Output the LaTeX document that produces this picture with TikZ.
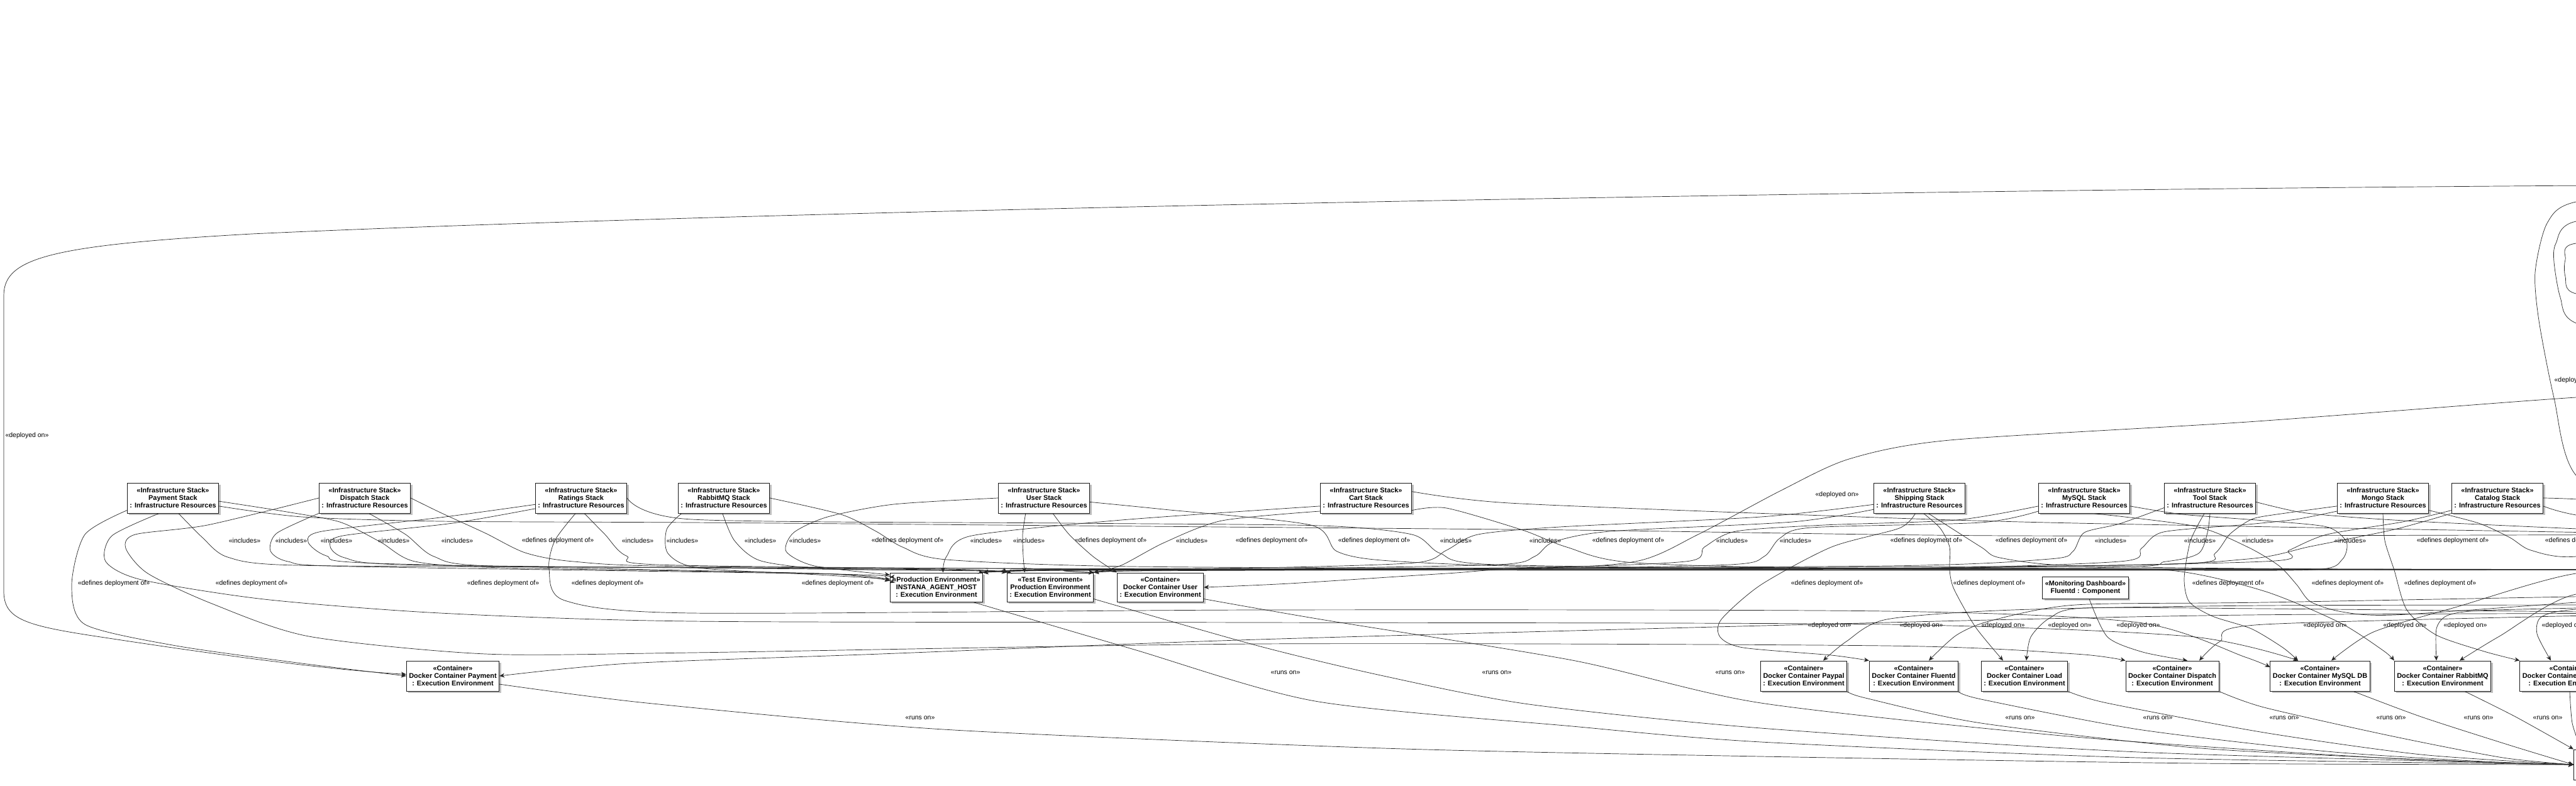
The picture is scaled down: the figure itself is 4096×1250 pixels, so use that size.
\documentclass[tikz,border=0pt]{standalone}
\usepackage{fontspec}
\setmainfont{Liberation Sans}
\usetikzlibrary{arrows.meta,shadows}
\begin{document}
\begin{tikzpicture}[x=1pt,y=-1pt,
  box/.style={draw=black!90, line width=1pt, fill=white,
    drop shadow={shadow xshift=3pt,shadow yshift=-3pt,opacity=0.35,fill=black!70},
    font=\fontsize{10.9}{12}\selectfont\bfseries, align=center,
    inner xsep=4pt, inner ysep=0pt, minimum height=48pt},
  envbox/.style={box, minimum height=46pt},
  dashbox/.style={box, minimum height=35pt},
  lbl/.style={font=\fontsize{10.5}{12}\selectfont, inner sep=0pt},
  edge/.style={draw=black!85, line width=0.7pt},
  arr/.style={edge, -{Stealth[length=8pt,width=7pt,inset=2.5pt]}},
  sm/.style={smooth, tension=0.45},
]
\useasboundingbox (0,0) rectangle (4096,1250);
\fill[white] (0,0) rectangle (4096,1250);
\clip (0,0) rectangle (4096,1250);

% ---------- off-picture ends ----------
\coordinate (oTop) at (4300,294);
\coordinate (oDep) at (4300,626);
\coordinate (oBun) at (4300,906);
\coordinate (oUp)  at (4300,850);
\coordinate (oLow) at (4300,962);
\coordinate (oLow2) at (4300,975);
\coordinate (oLow3) at (4300,945);
\coordinate (oLp1) at (4300,300);
\coordinate (oLp1e) at (4250,860);
\coordinate (oLp2) at (4300,335);
\coordinate (oLp2e) at (4250,560);
\coordinate (oLp3) at (4300,382);
\coordinate (oLp3e) at (4250,480);

% ---------- stacks ----------
\node[box] (sPay) at (275,792) {«Infrastructure Stack»\\Payment Stack\\: Infrastructure Resources};
\node[box] (sDis) at (580,792) {«Infrastructure Stack»\\Dispatch Stack\\: Infrastructure Resources};
\node[box] (sRat) at (924,792) {«Infrastructure Stack»\\Ratings Stack\\: Infrastructure Resources};
\node[box] (sRab) at (1151,792) {«Infrastructure Stack»\\RabbitMQ Stack\\: Infrastructure Resources};
\node[box] (sUse) at (1660,792) {«Infrastructure Stack»\\User Stack\\: Infrastructure Resources};
\node[box] (sCar) at (2172,792) {«Infrastructure Stack»\\Cart Stack\\: Infrastructure Resources};
\node[box] (sShi) at (3052,792) {«Infrastructure Stack»\\Shipping Stack\\: Infrastructure Resources};
\node[box] (sMys) at (3314,792) {«Infrastructure Stack»\\MySQL Stack\\: Infrastructure Resources};
\node[box] (sToo) at (3514,792) {«Infrastructure Stack»\\Tool Stack\\: Infrastructure Resources};
\node[box] (sMon) at (3789,792) {«Infrastructure Stack»\\Mongo Stack\\: Infrastructure Resources};
\node[box] (sCat) at (3971,792) {«Infrastructure Stack»\\Catalog Stack\\: Infrastructure Resources};

% ---------- environments ----------
\node[envbox] (inst) at (1489,934) {«Production Environment»\\INSTANA\_AGENT\_HOST\\: Execution Environment};
\node[envbox] (test) at (1670,934) {«Test Environment»\\Production Environment\\: Execution Environment};
\node[envbox] (cUser) at (1845,934) {«Container»\\Docker Container User\\: Execution Environment};
\node[dashbox] (fluC) at (3316,934.5) {«Monitoring Dashboard»\\Fluentd : Component};

% ---------- containers ----------
\node[box] (cPay) at (720,1075) {«Container»\\Docker Container Payment\\: Execution Environment};
\node[box] (cPaypal) at (2868,1075) {«Container»\\Docker Container Paypal\\: Execution Environment};
\node[box] (cFlu) at (3043,1075) {«Container»\\Docker Container Fluentd\\: Execution Environment};
\node[box] (cLoad) at (3219,1075) {«Container»\\Docker Container Load\\: Execution Environment};
\node[box] (cDis) at (3454,1075) {«Container»\\Docker Container Dispatch\\: Execution Environment};
\node[box] (cMys) at (3689,1075) {«Container»\\Docker Container MySQL DB\\: Execution Environment};
\node[box] (cRab) at (3884,1075) {«Container»\\Docker Container RabbitMQ\\: Execution Environment};
\node[box] (cX) at (4085,1075) {«Container»\\Docker Container Mongo DB\\: Execution Environment};
\node[box, anchor=west, minimum width=160pt] (host) at (4092,1216) {};

% ---------- labels ----------
\foreach \x [count=\i] in {389,463,535,626,727,1014,1085,1209,1280,1568,1636,1895,2315,2457,2754,2855,3356,3498,3590,3737}
  \node[lbl] (inc\i) at (\x,860) {«includes»};
\foreach \x [count=\i] in {887,1443,1766,2022,2185,2589,3063,3230,3900,4104}
  \node[lbl] (defa\i) at (\x,860) {«defines deployment of»};
\foreach \x [count=\i] in {181,400,800,966,1332,2905,3163,3543,3733,3880}
  \node[lbl] (defb\i) at (\x,928) {«defines deployment of»};
\foreach \x [count=\i] in {2909,3055,3185,3291,3400,3697,3824,3920,4076}
  \node[lbl] (depc\i) at (\x,995) {«deployed on»};
\node[lbl] (depx1) at (43,693) {«deployed on»};
\node[lbl] (depx2) at (2921,787) {«deployed on»};
\node[lbl] (depx3) at (4096,605) {«deployed on»};
\foreach \x [count=\i] in {2044,2380,2751}
  \node[lbl] (runa\i) at (\x,1070) {«runs on»};
\foreach \x [count=\i] in {1463,3212,3431,3632,3802,3941,4051}
  \node[lbl] (runb\i) at (\x,1142) {«runs on»};

% ---------- Payment stack ----------
\draw[arr] plot[sm] coordinates {(sPay.228) (178,852) (168,893) (225,922) (420,953) (700,975) (1100,988) (2000,990) (3000,993) (3480,1012) ([xshift=-35]cMys.north)};
\draw[arr] plot[sm] coordinates {(sPay.290) (322,855) (362,886) (470,899) (1000,902) (1500,905) (test.north west)};
\draw[arr] plot[sm] coordinates {(sPay.195) (135,850) (114,930) (135,993) (280,1027) (480,1055) (cPay.west)};
\draw[arr] plot[sm] coordinates {(sPay.356) (450,813) (540,830) (605,862) (660,893) (800,903) (1300,912) (inst.172)};
\draw[edge] plot[sm] coordinates {(sPay.350) (480,822) (700,829) (1100,831) (1700,836) (2500,843) (3200,852) (oUp)};

% ---------- Dispatch stack ----------
\draw[arr] plot[sm] coordinates {(sDis.west) (330,835) (215,850) (200,872) (235,912) (337,960) (491,1012) (772,1040) (1100,1038) (2000,1024) (3000,1027) (3300,1040) (cDis.north west)};
\draw[arr] plot[sm] coordinates {(sDis.south west) (440,848) (430,876) (458,893) (560,901) (1330,913) (inst.168)};
\draw[arr] plot[sm] coordinates {(sDis.285) (645,850) (690,885) (780,900) (1300,904) (1560,907) (test.north west)};
\draw[edge] plot[sm] coordinates {(sDis.east) (700,815) (772,848) (835,879) (912,893) (1100,901) (2000,905) (oBun)};

% ---------- Ratings stack ----------
\draw[arr] plot[sm] coordinates {(sRat.188) (700,823) (512,845) (490,862) (519,884) (600,896) (1330,913) (inst.175)};
\draw[arr] plot[sm] coordinates {(sRat.193) (720,832) (545,852) (525,869) (548,887) (640,898) (1200,904) (1560,908) (test.north west)};
\draw[edge] plot[sm] coordinates {(sRat.282) (962,850) (996,884) (1080,899) (2000,906) (oBun)};
\draw[arr] plot[sm] coordinates {(sRat.250) (882,860) (873,905) (898,955) (1100,975) (2000,970) (3000,972) (3400,990) (3570,1045) (cMys.170)};
\draw[edge] plot[sm] coordinates {(sRat.east) (1100,826) (1700,832) (2100,836) (2245,850) (2290,880) (2380,898) (3000,905) (oBun)};

% ---------- RabbitMQ stack ----------
\draw[arr] plot[sm] coordinates {(sRab.200) (1060,842) (1062,880) (1110,903) (1300,914) (inst.170)};
\draw[arr] plot[sm] coordinates {(sRab.265) (1168,860) (1210,892) (1320,905) (1560,907) (test.north west)};
\draw[arr] plot[sm] coordinates {(sRab.east) (1337,818) (1393,845) (1435,870) (1505,890) (1800,901) (2500,904) (3200,905) (3450,907) (3600,940) (3720,990) (3790,1035) (cRab.north west)};

% ---------- User stack ----------
\draw[arr] plot[sm] coordinates {(sUse.220) (1626,850) (1627,885) (test.150)};
\draw[arr] plot[sm] coordinates {(sUse.west) (1421,802) (1316,822) (1262,847) (1250,877) (1295,900) (inst.165)};
\draw[arr] plot[sm] coordinates {(sUse.300) (1700,850) (1738,885) (cUser.north west)};
\draw[edge] plot[sm] coordinates {(sUse.355) (1850,810) (2084,835) (2126,877) (2210,892) (2500,902) (3300,904) (oBun)};

% ---------- Cart stack ----------
\draw[arr] plot[sm] coordinates {(sCar.190) (1783,827) (1545,852) (1505,885) (inst.66)};
\draw[arr] plot[sm] coordinates {(sCar.196) (1943,828) (1851,863) (1783,899) (test.north east)};
\draw[edge] plot[sm] coordinates {(sCar.345) (2300,808) (2421,843) (2491,870) (2600,895) (3000,904) (oBun)};
\draw[edge] plot[sm] coordinates {(sCar.8) (2400,800) (2900,820) (3300,832) (oUp)};

% ---------- Shipping stack ----------
\draw[arr] plot[sm] coordinates {(sShi.188) (2800,822) (2480,838) (2350,850) (2300,875) (2250,895) (2000,903) (1650,906) (inst.north east)};
\draw[arr] plot[sm] coordinates {(sShi.194) (2850,830) (2560,845) (2470,862) (2440,885) (2380,898) (2000,905) (1790,908) (test.north east)};
\draw[arr] plot[sm] coordinates {(sShi.255) (3020,840) (2912,870) (2800,930) (2737,985) (2735,1013) (2772,1030) (2912,1042) (cFlu.north west)};
\draw[arr] plot[sm] coordinates {(sShi.285) (3085,840) (3100,870) (3100,907) (3107,937) (3141,997) ([xshift=-34]cLoad.north)};
\draw[edge] plot[sm] coordinates {(sShi.300) (3150,870) (3180,887) (3300,900) (3700,905) (oBun)};

% ---------- MySQL stack ----------
\draw[arr] plot[sm] coordinates {(sMys.190) (3111,827) (2900,835) (2760,845) (2710,870) (2680,893) (2400,903) (1700,906) (inst.north east)};
\draw[arr] plot[sm] coordinates {(sMys.196) (3150,831) (2880,839) (2830,856) (2805,885) (2750,898) (2400,905) (1800,908) (test.north east)};
\draw[arr] plot[sm] coordinates {(sMys.350) (3470,818) (3600,828) (3700,838) (3731,862) (3724,890) (3680,906) (3400,907) (2800,907) (1700,907) (inst.north east)};
\draw[edge] plot[sm] coordinates {(sMys.300) (3491,837) (3574,870) (3624,900) (3652,930) (3674,957) (3724,973) (3807,978) (4096,958) (oLow3)};

% ---------- Tool stack ----------
\draw[arr] plot[sm] coordinates {(sToo.192) (3370,833) (3314,847) (3296,877) (3259,889) (3000,900) (2000,905) (1700,907) (test.north east)};
\draw[arr] plot[sm] coordinates {(sToo.south) (3510,847) (3496,880) (3444,893) (3300,903) (2000,906) (1650,906) (inst.north east)};
\draw[edge] plot[sm] coordinates {(sToo.355) (3660,815) (3760,824) (3900,832) (oUp)};
\draw[arr] plot[sm] coordinates {(sToo.250) (3483,860) (3473,920) (3481,957) (3518,980) (3580,1000) (3630,1030) ([xshift=-35]cMys.north)};

% ---------- Mongo stack ----------
\draw[arr] plot[sm] coordinates {(sMon.190) (3600,821) (3574,829) (3545,850) (3522,880) (3480,896) (3000,904) (2000,906) (1700,907) (test.north east)};
\draw[arr] plot[sm] coordinates {(sMon.196) (3650,826) (3574,834) (3440,846) (3405,872) (3370,893) (3000,904) (2000,906) (1650,906) (inst.north east)};
\draw[arr] plot[sm] coordinates {(sMon.south) (3792,860) (3807,907) (3827,970) (3874,1010) (3950,1036) (cX.north west)};
\draw[edge] plot[sm] coordinates {(sMon.345) (3941,832) (3991,855) (4024,875) (4096,885) (oUp)};

% ---------- Catalog stack ----------
\draw[arr] plot[sm] coordinates {(sCat.south west) (3807,842) (3674,869) (3574,889) (3300,900) (2000,905) (1650,906) (inst.north east)};
\draw[arr] plot[sm] coordinates {(sCat.195) (3820,830) (3700,850) (3640,875) (3600,893) (3000,904) (2000,906) (1780,907) (test.north east)};
\draw[edge] plot[sm] coordinates {(sCat.350) (4096,819) (oUp)};
\draw[edge] plot[sm] coordinates {(sCat.east) (4150,800) (oUp)};

% ---------- deployed on ----------
\draw[arr] (oTop) .. controls (3000,300) and (1200,335) .. (400,372)
  .. controls (80,390) and (6,410) .. (6,470) -- (6,940)
  .. controls (6,985) and (40,995) .. (160,1013)
  .. controls (350,1042) and (520,1065) .. (cPay.178);
\draw[arr] plot[sm] coordinates {(oDep) (4096,632) (3574,671) (3100,700) (2940,730) (2832,780) (2700,850) (2600,893) (2400,904) (1700,907) (inst.north east)};
\draw[arr] plot[sm] coordinates {(oLow) (3600,963) (3200,970) (3000,985) (2936,1020) ([xshift=31]cPaypal.north)};
\draw[arr] plot[sm] coordinates {(oLow3) (3600,958) (3300,962) (3166,987) (3111,1010) ([xshift=24]cFlu.north)};
\draw[arr] plot[sm] coordinates {(oLow2) (3600,968) (3314,967) (3259,983) (3229,1013) ([xshift=3]cLoad.north)};
\draw[arr] plot[sm] coordinates {([xshift=6]fluC.south) (3351,1013) (3407,1037) ([xshift=24]cDis.north)};
\draw[arr] plot[sm] coordinates {(oLow2) (3600,993) (3530,1020) ([xshift=43]cDis.north)};
\draw[arr] plot[sm] coordinates {(oBun) (4096,912) (3907,965) (3774,1005) ([xshift=18]cMys.north)};
\draw[arr] plot[sm] coordinates {(oLow) (4096,967) (3941,971) (3891,979) (3874,1000) ([xshift=-10]cRab.north)};
\draw[arr] plot[sm] coordinates {(oLow3) (4096,945) (3974,1012) ([xshift=27]cRab.north)};
\draw[arr] plot[sm] coordinates {(oLow) (4096,969) (4041,981) (4034,1008) ([xshift=-29]cX.north)};
\draw[arr] plot[sm] coordinates {(oBun) (3000,905) (2450,904) (2300,912) (2050,928) (cUser.east)};
\draw[arr] plot[sm] coordinates {(oLow2) (3574,978) (3000,990) (2000,1017) (1400,1040) (1000,1055) (cPay.east)};

% ---------- loops at the right border ----------
\draw[edge] plot[sm] coordinates {(oLp1) (4096,321) (4050,355) (4031,433) (4037,510) (4061,633) (4096,756) (oLp1e)};
\draw[edge] plot[sm] coordinates {(oLp2) (4096,352) (4064,387) (4061,417) (4071,473) (4094,513) (oLp2e)};
\draw[edge] plot[sm] coordinates {(oLp3) (4096,387) (4079,413) (4079,440) (4096,467) (oLp3e)};

% ---------- runs on ----------
\draw[arr] plot[sm] coordinates {(cPay.350) (1028,1118) (1500,1160) (2200,1190) (2800,1203) (3500,1214) (host.west)};
\draw[arr] plot[sm] coordinates {(inst.338) (1800,1032) (2091,1115) (2500,1155) (2800,1180) (3400,1205) (host.west)};
\draw[arr] plot[sm] coordinates {(test.345) (2000,1027) (2200,1075) (2431,1120) (2800,1158) (3400,1196) (host.west)};
\draw[arr] plot[sm] coordinates {(cUser.345) (2100,985) (2500,1050) (2800,1118) (3300,1172) (3800,1206) (host.west)};
\draw[arr] plot[sm] coordinates {(cPaypal.south east) (2966,1110) (3150,1150) (3500,1190) (3900,1210) (host.west)};
\draw[arr] plot[sm] coordinates {(cFlu.south east) (3150,1112) (3400,1160) (3700,1195) (3950,1211) (host.west)};
\draw[arr] plot[sm] coordinates {(cLoad.south east) (3350,1118) (3600,1165) (3850,1200) (host.west)};
\draw[arr] plot[sm] coordinates {(cDis.south east) (3600,1125) (3800,1170) (3980,1205) (host.west)};
\draw[arr] plot[sm] coordinates {([xshift=53]cMys.south) (3850,1140) (3990,1185) (host.west)};
\draw[arr] plot[sm] coordinates {([xshift=35]cRab.south) (4000,1140) (host.north west)};
\draw[arr] plot[sm] coordinates {([xshift=1]cX.south) (4090,1150) ([xshift=12]host.north west)};
\end{tikzpicture}
\end{document}
